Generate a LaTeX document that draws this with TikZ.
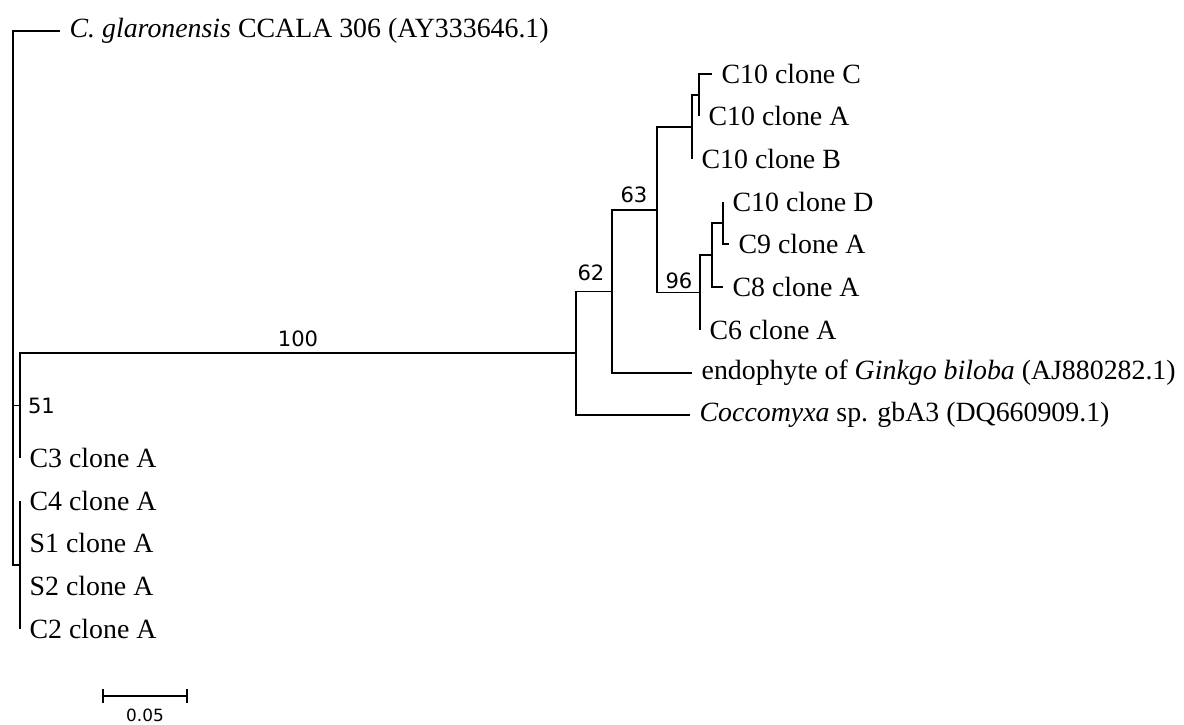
\documentclass[tikz,border=0pt]{standalone}
\usepackage{fontspec}
\setmainfont{Liberation Serif}
\newfontfamily\bootfont{DejaVu Sans}
\usetikzlibrary{arrows.meta, positioning, calc}

\begin{document}
\begin{tikzpicture}[x=0.025cm, y=-0.025cm, line width=1.2pt, node distance=0.22cm,
    tiplab/.style={inner sep=0pt, font=\fontsize{19.8}{24}\selectfont},
    boot/.style={inner sep=0pt, font=\bootfont\fontsize{15}{17}\selectfont},
    scalelab/.style={inner sep=0pt, font=\bootfont\fontsize{12}{14}\selectfont}]
    \useasboundingbox (0,0) rectangle (1184,724);
    % internal nodes
    \coordinate (root)  at (13,300);
    \coordinate (n51)   at (20,405.5);
    \coordinate (nlow)  at (20,565);
    \coordinate (n100)  at (576,353);
    \coordinate (n62)   at (612,291.5);
    \coordinate (n63)   at (657,210);
    \coordinate (nC10)  at (692,127);
    \coordinate (nCA)   at (699,95);
    \coordinate (n96)   at (700,292.5);
    \coordinate (n8)    at (712,255);
    \coordinate (n9)    at (723,223);
    % tips
    \coordinate (tgla)   at (60,31);
    \coordinate (tC10C)  at (712,74);
    \coordinate (tC10A)  at (699,116);
    \coordinate (tC10B)  at (692,159);
    \coordinate (tC10D)  at (723,202);
    \coordinate (tC9)    at (729,244);
    \coordinate (tC8)    at (723,287);
    \coordinate (tC6)    at (700,330);
    \coordinate (tendo)  at (692,373);
    \coordinate (tcocco) at (690,415);
    \coordinate (tC3)    at (20,458);
    \coordinate (tC4)    at (20,501);
    \coordinate (tS1)    at (20,543);
    \coordinate (tS2)    at (20,586);
    \coordinate (tC2)    at (20,629);

    % branches
    \foreach \p/\c in {root/tgla, root/n51, root/nlow, n51/n100, n51/tC3,
        nlow/tC4, nlow/tS1, nlow/tS2, nlow/tC2, n100/n62, n100/tcocco,
        n62/n63, n62/tendo, n63/nC10, n63/n96, nC10/nCA, nC10/tC10B,
        nCA/tC10C, nCA/tC10A, n96/n8, n96/tC6, n8/n9, n8/tC8,
        n9/tC10D, n9/tC9}
        \draw (\p) |- (\c);

    % tip labels
    \node[tiplab, right=of tgla]   (lgla)   {\textit{C. glaronensis} CCALA 306 (AY333646.1)};
    \node[tiplab, right=of tC10C]  (lC10C)  {C10 clone C};
    \node[tiplab, right=of tC10A]  (lC10A)  {C10 clone A};
    \node[tiplab, right=of tC10B]  (lC10B)  {C10 clone B};
    \node[tiplab, right=of tC10D]  (lC10D)  {C10 clone D};
    \node[tiplab, right=of tC9]    (lC9)    {C9 clone A};
    \node[tiplab, right=of tC8]    (lC8)    {C8 clone A};
    \node[tiplab, right=of tC6]    (lC6)    {C6 clone A};
    \node[tiplab, right=of tendo]  (lendo)  {endophyte of \textit{Ginkgo biloba} (AJ880282.1)};
    \node[tiplab, right=of tcocco] (lcocco) {\textit{Coccomyxa} sp. gbA3 (DQ660909.1)};
    \node[tiplab, right=of tC3]    (lC3)    {C3 clone A};
    \node[tiplab, right=of tC4]    (lC4)    {C4 clone A};
    \node[tiplab, right=of tS1]    (lS1)    {S1 clone A};
    \node[tiplab, right=of tS2]    (lS2)    {S2 clone A};
    \node[tiplab, right=of tC2]    (lC2)    {C2 clone A};

    % bootstrap values
    \node[boot, above=0.14cm] (b100) at ($(n51 |- n100)!0.5!(n100)$) {100};
    \node[boot, right=0.18cm of n51] (b51) {51};
    \node[boot, above left=0.24cm and 0.17cm of n62] (b62) {62};
    \node[boot, above left=0.15cm and 0.22cm of n63] (b63) {63};
    \node[boot, above left=0.07cm and 0.17cm of n96] (b96) {96};

    % scale bar
    \coordinate (sbl) at (102,696);
    \coordinate (sbr) at (188,696);
    \draw[{Bar[width=0.33cm]}-{Bar[width=0.33cm]}] (sbl) -- (sbr);
    \node[scalelab, below=0.3cm] (sblab) at ($(sbl)!0.5!(sbr)$) {0.05};
\end{tikzpicture}
\end{document}
